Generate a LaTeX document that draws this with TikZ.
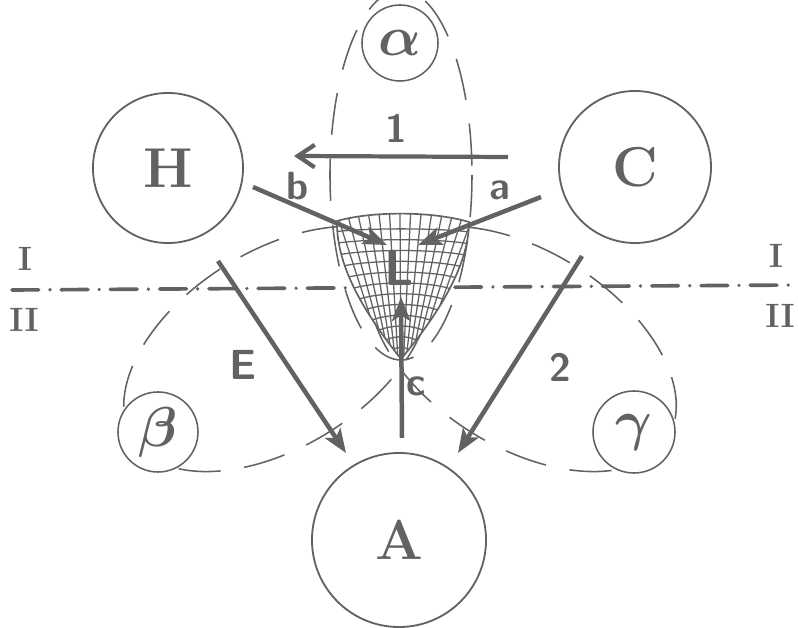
\RequirePackage{fix-cm}
\documentclass[tikz,border=0pt]{standalone}
\usepackage{amsmath,amssymb}
\usetikzlibrary{arrows.meta,calc}
\definecolor{ink}{RGB}{98,98,98}

\begin{document}
\begin{tikzpicture}[x=0.025cm,y=-0.025cm,
  bigcirc/.style={circle,draw=ink,line width=1.3pt,fill=white,text=ink,inner sep=0pt,
    font=\fontsize{40}{40}\selectfont\bfseries},
  zonecirc/.style={circle,draw=ink,line width=1.1pt,fill=white,text=ink,inner sep=0pt,
    font=\fontsize{40}{40}\selectfont\boldmath},
  zone/.style={draw=ink,line width=1.1pt,dash pattern=on 30pt off 17pt},
  axisline/.style={draw=ink,line width=2.6pt,line cap=round,dash pattern=on 19pt off 8pt on 0pt off 8pt},
  mesh/.style={draw=ink,line width=0.9pt},
  flow/.style={draw=ink,line width=3.2pt,-{Stealth[length=17pt,width=13pt,inset=4pt]}},
  hand/.style={text=ink,inner sep=0pt,font=\fontsize{28}{28}\selectfont\sffamily\bfseries},
  roman/.style={text=ink,inner sep=0pt,font=\fontsize{24}{24}\selectfont\bfseries}]

\useasboundingbox (0,0) rectangle (798,628);

% the three zones
\draw[zone] (401,175) ellipse (71 and 185);
\coordinate (bz) at (277,349);
\coordinate (gz) at (523,349);
\draw[zone,rotate around={32:(bz)}] (bz) ellipse (170 and 98);
\draw[zone,rotate around={-32:(gz)}] (gz) ellipse (170 and 98);

% section line I / II
\coordinate (cl) at (12,290);
\coordinate (cr) at (798,285);
\draw[axisline] (cl) -- (cr);
\node[roman] (IL) at (25,259) {I};
\node[roman] (IIL) at (24,320) {II};
\node[roman] (IR) at (776,256) {I};
\node[roman] (IIR) at (780,316) {II};

% hatched lens
\coordinate (lt) at (337,221);
\coordinate (lr) at (469,222);
\coordinate (tip) at (401,359);
\fill[white] (lt) .. controls (372,211) and (432,211) .. (lr)
  .. controls (469,266) and (437,316) .. (tip) .. controls (367,316) and (336,268) .. cycle;
\begin{scope}
  \clip (lt) .. controls (372,211) and (432,211) .. (lr)
    .. controls (469,266) and (437,316) .. (tip) .. controls (367,316) and (336,268) .. cycle;
  \foreach \j in {0,...,13}{
    \pgfmathsetmacro\xt{334+11*\j}
    \pgfmathsetmacro\xb{401+0.22*(\xt-401)}
    \draw[mesh] (\xb,366) -- (\xt,205);
  }
  \foreach \i in {1,...,12}{
    \pgfmathsetmacro\yy{219+11*\i}
    \pgfmathsetmacro\ww{66*((358-\yy)/136)^0.7+8}
    \pgfmathsetmacro\dd{2+0.09*(74-\ww)}
    \draw[mesh] (401-\ww,\yy+\dd) .. controls (401-\ww/2,\yy-\dd) and (401+\ww/2,\yy-\dd) .. (401+\ww,\yy+\dd);
  }
\end{scope}
\draw[ink,line width=1.2pt] (lt) .. controls (372,211) and (432,211) .. (lr)
  .. controls (469,266) and (437,316) .. (tip) .. controls (367,316) and (336,268) .. cycle;

% circles
\node[bigcirc,minimum size=3.75cm] (H) at (168,168) {H};
\node[bigcirc,minimum size=3.8cm] (C) at (635,167) {C};
\node[bigcirc,minimum size=4.35cm] (A) at (399,540) {A};
\node[zonecirc,minimum size=1.9cm] (alpha) at (400,43) {$\alpha$};
\node[zonecirc,minimum size=2cm] (beta) at (158,432) {$\beta$};
\node[zonecirc,minimum size=2.05cm] (gamma) at (634,432) {$\gamma$};

% arrows
\coordinate (os) at (508,157);
\coordinate (oe) at (294,156);
\draw[draw=ink,line width=3pt,-{Straight Barb[length=12pt,width=16pt]}] (os) -- (oe);
\coordinate (bs) at (253,187);
\coordinate (be) at (387,245);
\draw[flow] (bs) -- (be);
\coordinate (as) at (541,197);
\coordinate (ae) at (418,245);
\draw[flow] (as) -- (ae);
\node[hand,font=\fontsize{36}{36}\selectfont\sffamily\bfseries] (L) at (399,268) {L};
\coordinate (cs) at (402,438);
\coordinate (ce) at (401,297);
\draw[flow] (cs) -- (ce);
\coordinate (es) at (218,261);
\coordinate (ee) at (346,453);
\draw[flow] (es) -- (ee);
\coordinate (ts) at (582,256);
\coordinate (te) at (458,453);
\draw[flow] (ts) -- (te);

% labels
\node[hand] (n1) at (396,128) {1};
\node[hand] (lb) at (298,186) {b};
\node[hand] (la) at (500,190) {a};
\node[hand] (lc) at (416,386) {c};
\node[hand,font=\fontsize{30}{30}\selectfont\sffamily\bfseries] (lE) at (243,365) {E};
\node[hand] (l2) at (560,367) {2};
\end{tikzpicture}
\end{document}
